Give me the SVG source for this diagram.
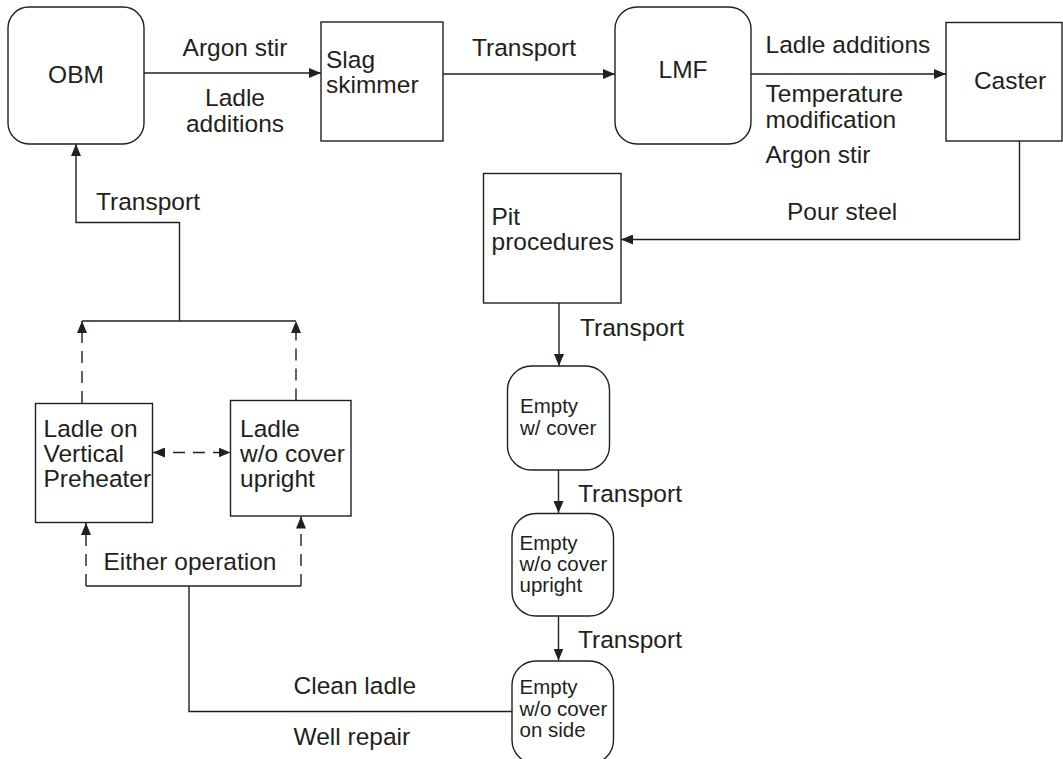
<svg xmlns="http://www.w3.org/2000/svg" width="1063" height="759" viewBox="0 0 1063 759">
<style>
.box{fill:#fff;stroke:#231f20;stroke-width:1.4}
.ln{fill:none;stroke:#231f20;stroke-width:1.4}
.ds{fill:none;stroke:#231f20;stroke-width:1.4;stroke-dasharray:12 8}
text{font-family:"Liberation Sans",Arial,sans-serif;fill:#231f20}
.t{font-size:24.5px}
.s{font-size:20.5px}
</style>
<defs>
<marker id="ah" viewBox="0 0 12 10" refX="12" refY="5" markerWidth="12" markerHeight="10" markerUnits="userSpaceOnUse" orient="auto-start-reverse">
<path d="M0,0 L12,5 L0,10 Z" fill="#231f20"/>
</marker>
</defs>
<rect width="1063" height="759" fill="#fff"/>
<g id="connectors">
<line class="ln" x1="144" y1="73" x2="321" y2="73" marker-end="url(#ah)"/>
<line class="ln" x1="443" y1="74" x2="615" y2="74" marker-end="url(#ah)"/>
<line class="ln" x1="751" y1="74" x2="946" y2="74" marker-end="url(#ah)"/>
<polyline class="ln" points="1019.5,141 1019.5,239.5 621,239.5" marker-end="url(#ah)"/>
<line class="ln" x1="559" y1="303" x2="559" y2="366" marker-end="url(#ah)"/>
<line class="ln" x1="558.5" y1="470" x2="558.5" y2="513" marker-end="url(#ah)"/>
<line class="ln" x1="558.5" y1="616" x2="558.5" y2="660.5" marker-end="url(#ah)"/>
<polyline class="ln" points="512,711.5 189,711.5 189,586"/>
<line class="ln" x1="86" y1="586" x2="301" y2="586"/>
<line class="ds" x1="86" y1="586" x2="86" y2="523" marker-end="url(#ah)"/>
<line class="ds" x1="301" y1="586" x2="301" y2="516.5" marker-end="url(#ah)"/>
<line class="ds" x1="153" y1="452.5" x2="230.5" y2="452.5" marker-start="url(#ah)" marker-end="url(#ah)"/>
<line class="ds" x1="82" y1="403" x2="82" y2="321" marker-end="url(#ah)"/>
<line class="ds" x1="296" y1="400.5" x2="296" y2="321" marker-end="url(#ah)"/>
<line class="ln" x1="82" y1="321" x2="296" y2="321"/>
<polyline class="ln" points="179.5,321 179.5,222.5 76,222.5 76,144" marker-end="url(#ah)"/>
</g>
<g id="labels">
<text class="t" x="235" y="56" text-anchor="middle">Argon stir</text>
<text class="t" x="235" y="106" text-anchor="middle">Ladle</text>
<text class="t" x="235" y="131.5" text-anchor="middle">additions</text>
<text class="t" x="524" y="56" text-anchor="middle">Transport</text>
<text class="t" x="765.5" y="53">Ladle additions</text>
<text class="t" x="765.5" y="102">Temperature</text>
<text class="t" x="765.5" y="128">modification</text>
<text class="t" x="765.5" y="163">Argon stir</text>
<text class="t" x="787" y="220">Pour steel</text>
<text class="t" x="96" y="210">Transport</text>
<text class="t" x="580" y="336">Transport</text>
<text class="t" x="578" y="501.5">Transport</text>
<text class="t" x="578" y="648">Transport</text>
<text class="t" x="103.5" y="570">Either operation</text>
<text class="t" x="293.5" y="694">Clean ladle</text>
<text class="t" x="293.5" y="745">Well repair</text>
</g>
<g id="obm">
<rect class="box" x="8" y="7" width="136" height="137" rx="21"/>
<text class="t" x="76" y="83" text-anchor="middle">OBM</text>
</g>
<g id="slag-skimmer">
<rect class="box" x="321" y="22" width="122" height="119"/>
<text class="t" x="326" y="68">Slag</text>
<text class="t" x="326" y="93">skimmer</text>
</g>
<g id="lmf">
<rect class="box" x="615" y="7" width="136" height="137" rx="22"/>
<text class="t" x="683" y="78" text-anchor="middle">LMF</text>
</g>
<g id="caster">
<rect class="box" x="946" y="22.5" width="116" height="118.5"/>
<text class="t" x="1010" y="89" text-anchor="middle">Caster</text>
</g>
<g id="pit-procedures">
<rect class="box" x="483.5" y="173.5" width="137.5" height="129.5"/>
<text class="t" x="491.5" y="225">Pit</text>
<text class="t" x="491.5" y="250">procedures</text>
</g>
<g id="empty-w-cover">
<rect class="box" x="507.5" y="366" width="102" height="104" rx="24"/>
<text class="s" x="520" y="413">Empty</text>
<text class="s" x="520" y="435">w/ cover</text>
</g>
<g id="empty-wo-cover-upright">
<rect class="box" x="512" y="513.5" width="101.5" height="102.5" rx="24"/>
<text class="s" x="519.5" y="550">Empty</text>
<text class="s" x="519.5" y="571">w/o cover</text>
<text class="s" x="519.5" y="592">upright</text>
</g>
<g id="empty-wo-cover-side">
<rect class="box" x="512" y="661" width="101.5" height="103" rx="24"/>
<text class="s" x="519.5" y="694">Empty</text>
<text class="s" x="519.5" y="716">w/o cover</text>
<text class="s" x="519.5" y="737">on side</text>
</g>
<g id="ladle-preheater">
<rect class="box" x="35.5" y="403.5" width="117" height="119"/>
<text class="t" x="43.5" y="437">Ladle on</text>
<text class="t" x="43.5" y="462">Vertical</text>
<text class="t" x="43.5" y="487">Preheater</text>
</g>
<g id="ladle-upright">
<rect class="box" x="230.5" y="400.5" width="120.5" height="115.5"/>
<text class="t" x="240" y="437">Ladle</text>
<text class="t" x="240" y="462">w/o cover</text>
<text class="t" x="240" y="487">upright</text>
</g>
</svg>
